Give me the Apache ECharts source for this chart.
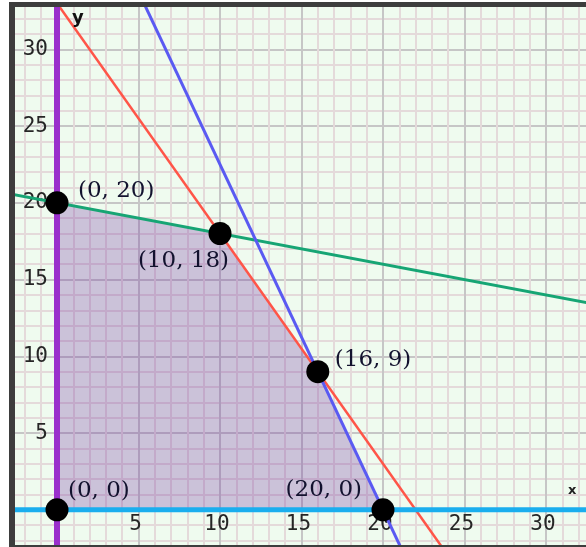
<!DOCTYPE html>
<html>
<head>
<meta charset="utf-8">
<script src="https://cdn.jsdelivr.net/npm/echarts@6/dist/echarts.min.js"></script>
<style>html,body{margin:0;padding:0;background:#fff}#c{width:586px;height:547px}</style>
</head>
<body>
<div id="c"></div>
<script>
// Tick labels shown on each axis
const xTickLabels = [5, 10, 15, 20, 25, 30];
const yTickLabels = [5, 10, 15, 20, 25, 30];

// Constraint lines (endpoints read beyond the visible window; clipped by the grid)
const greenLine = [[-5, 21], [35, 13]];        // x + 5y = 100
const redLine = [[-2, 36], [26, -6]];          // 3x + 2y = 66
const blueLine = [[4, 36], [22, -4.5]];        // 9x + 4y = 180
const yAxisLine = [[0, -5], [0, 35]];          // x = 0
const xAxisLine = [[-5, 0], [35, 0]];          // y = 0

// Feasible region upper boundary (filled down to y = 0)
const regionEdge = [[0, 20], [10, 18], [16, 9], [20, 0]];

// Corner points
const cornerPoints = [[0, 20], [10, 18], [16, 9], [0, 0], [20, 0]];
const cornerLabels = ['(0, 20)', '(10, 18)', '(16, 9)', '(0, 0)', '(20, 0)'];

const labelPlace = [
  {align: 'left', offset: [21, -12]},
  {align: 'right', offset: [9, 28]},
  {align: 'left', offset: [17, -12]},
  {align: 'left', offset: [11, -19]},
  {align: 'right', offset: [-21, -20]}
];

const chart = echarts.init(document.getElementById('c'), null, {renderer: 'canvas'});

function lineSeries(data, color, width, z) {
  return {
    type: 'line', data: data, showSymbol: false, symbol: 'none', z: z,
    lineStyle: {color: color, width: width}, silent: true, clip: true
  };
}

const GRID = {left: -24.5, top: -27.45, width: 652, height: 614};
const X0PX = 57, Y0PX = 509.8;

const tickFont = {fontFamily: 'DejaVu Sans Mono', fontSize: 21, color: '#262626'};

chart.setOption({
  animation: false,
  backgroundColor: '#ffffff',
  grid: {
    left: GRID.left, top: GRID.top, width: GRID.width, height: GRID.height,
    containLabel: false, outerBoundsMode: 'none',
    show: true, backgroundColor: '#effbef', borderWidth: 0
  },
  xAxis: {
    type: 'value', min: -5, max: 35, interval: 5,
    position: 'bottom',
    offset: -((GRID.top + GRID.height) - Y0PX),
    axisLine: {show: false, onZero: false},
    axisTick: {show: false},
    minorTick: {show: false, splitNumber: 5},
    splitLine: {show: true, lineStyle: {color: '#c6c6c6', width: 2}},
    minorSplitLine: {show: true, lineStyle: {color: '#e4dada', width: 2}},
    axisLabel: Object.assign({
      show: true, margin: 4, showMinLabel: true, showMaxLabel: true,
      padding: [0, 6, 0, 0],
      formatter: function (v) { return xTickLabels.indexOf(Number(v)) >= 0 ? String(v) : ''; }
    }, tickFont)
  },
  yAxis: {
    type: 'value', min: -5, max: 35, interval: 5,
    position: 'left',
    offset: -(X0PX - GRID.left),
    axisLine: {show: false, onZero: false},
    axisTick: {show: false},
    minorTick: {show: false, splitNumber: 5},
    splitLine: {show: true, lineStyle: {color: '#c6c6c6', width: 2}},
    minorSplitLine: {show: true, lineStyle: {color: '#e4dada', width: 2}},
    axisLabel: Object.assign({
      show: true, margin: 9, showMinLabel: true, showMaxLabel: true,
      formatter: function (v) { return yTickLabels.indexOf(Number(v)) >= 0 ? String(v) : ''; }
    }, tickFont)
  },
  series: [
    {
      type: 'line', data: regionEdge, showSymbol: false, symbol: 'none', z: 1,
      lineStyle: {width: 0}, areaStyle: {color: 'rgba(112,48,160,0.40)', origin: 'auto'}, silent: true
    },
    lineSeries(greenLine, '#16a574', 3, 3),
    lineSeries(redLine, '#ff5548', 2.5, 3),
    lineSeries(blueLine, '#5a5af2', 3, 3),
    lineSeries(yAxisLine, '#9a30cc', 6, 4),
    lineSeries(xAxisLine, '#1aaeee', 5, 4),
    {
      type: 'scatter', z: 6, symbol: 'circle', symbolSize: 23,
      itemStyle: {color: '#000000', opacity: 1},
      data: cornerPoints.map((p, i) => ({
        value: p,
        label: {
          show: true, position: 'inside', formatter: cornerLabels[i],
          align: labelPlace[i].align, verticalAlign: 'middle',
          offset: labelPlace[i].offset,
          fontFamily: 'DejaVu Serif', fontSize: 23, color: '#12122e'
        }
      }))
    }
  ],
  graphic: [
    {type: 'rect', z: 100, shape: {x: 0, y: 0, width: 9, height: 547}, style: {fill: '#ffffff'}},
    {type: 'rect', z: 100, shape: {x: 0, y: 0, width: 586, height: 2}, style: {fill: '#ffffff'}},
    {type: 'rect', z: 101, shape: {x: 9, y: 2, width: 6, height: 545}, style: {fill: '#3d3d3d'}},
    {type: 'rect', z: 101, shape: {x: 9, y: 2, width: 577, height: 5}, style: {fill: '#3d3d3d'}},
    {type: 'rect', z: 101, shape: {x: 9, y: 545, width: 577, height: 2}, style: {fill: '#3d3d3d'}},
    {type: 'text', z: 102, x: 72, y: 9, style: {text: 'y', font: 'bold 18px DejaVu Sans', fill: '#111'}},
    {type: 'text', z: 102, x: 568, y: 484, style: {text: 'x', font: 'bold 13px DejaVu Sans', fill: '#222'}}
  ]
});
</script>
</body>
</html>
